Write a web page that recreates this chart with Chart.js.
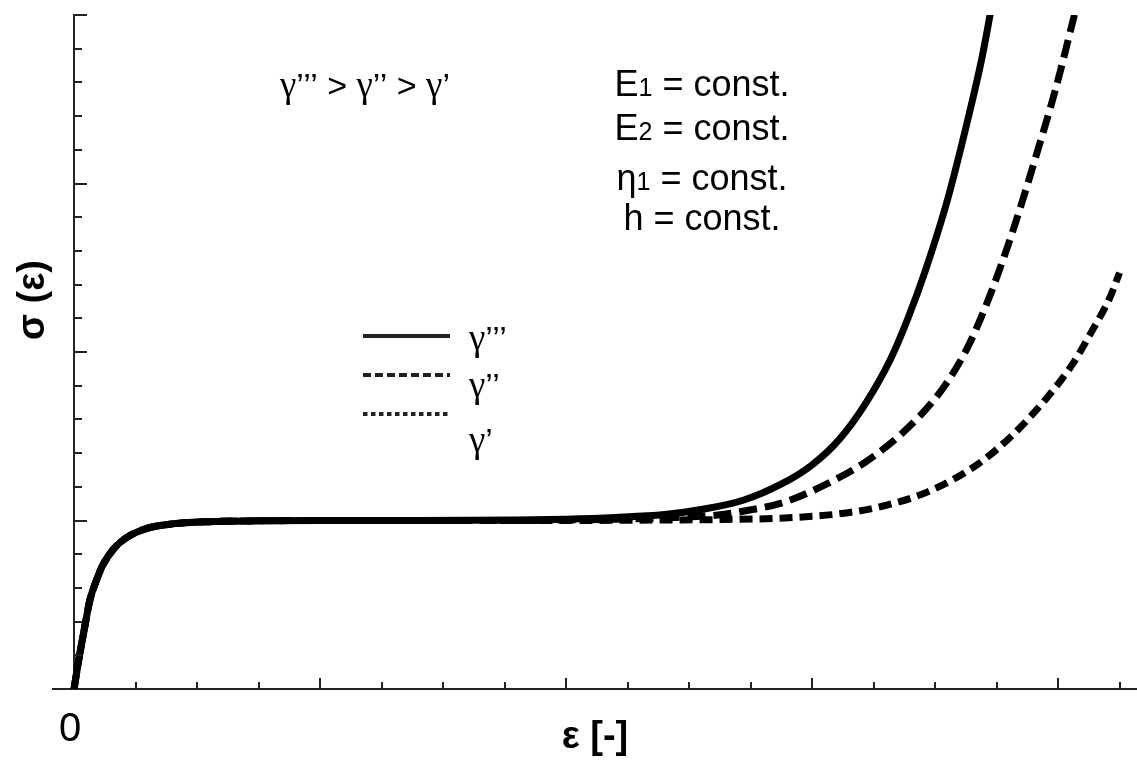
<!DOCTYPE html>
<html>
<head>
<meta charset="utf-8">
<script src="https://cdn.jsdelivr.net/npm/chart.js@4"></script>
<style>
  html, body { margin: 0; padding: 0; background: #fff; }
  #myChart { display: block; }
</style>
</head>
<body>
<canvas id="myChart" width="1137" height="760"></canvas>
<script>
// strain (x) and stress (y)
const strainFast = [0, 0.02, 0.04, 0.065, 0.09, 0.115, 0.16, 0.215, 0.3, 0.4, 0.55, 0.75, 1.0, 1.4, 1.8, 2.0, 2.2, 2.4, 2.55, 2.72, 2.88, 3.0, 3.11, 3.22, 3.32, 3.39, 3.46, 3.55, 3.64, 3.69, 3.73];
const stressFast = [0, 0.18, 0.34, 0.53, 0.64, 0.73, 0.83, 0.9, 0.955, 0.98, 0.993, 0.998, 1.0, 1.0, 1.003, 1.008, 1.018, 1.035, 1.065, 1.12, 1.22, 1.33, 1.48, 1.70, 1.96, 2.2, 2.48, 2.9, 3.42, 3.74, 4.05];

const strainMid = [0, 0.02, 0.04, 0.065, 0.09, 0.115, 0.16, 0.215, 0.3, 0.4, 0.55, 0.75, 1.0, 1.4, 1.8, 2.0, 2.2, 2.4, 2.6, 2.72, 2.89, 3.05, 3.22, 3.39, 3.53, 3.63, 3.70, 3.76, 3.83, 3.91, 3.99, 4.07];
const stressMid = [0, 0.18, 0.34, 0.53, 0.64, 0.73, 0.83, 0.9, 0.955, 0.98, 0.993, 0.998, 1.0, 1.0, 1.0, 1.003, 1.008, 1.016, 1.03, 1.055, 1.11, 1.21, 1.35, 1.55, 1.78, 2.02, 2.25, 2.48, 2.78, 3.16, 3.56, 4.02];

const strainSlow = [0, 0.02, 0.04, 0.065, 0.09, 0.115, 0.16, 0.215, 0.3, 0.4, 0.55, 0.75, 1.0, 1.4, 1.8, 2.0, 2.2, 2.4, 2.64, 2.89, 3.14, 3.30, 3.47, 3.67, 3.81, 3.95, 4.06, 4.14, 4.21, 4.25];
const stressSlow = [0, 0.18, 0.34, 0.53, 0.64, 0.73, 0.83, 0.9, 0.955, 0.98, 0.993, 0.998, 1.0, 1.0, 1.0, 1.0, 1.001, 1.003, 1.006, 1.015, 1.045, 1.09, 1.17, 1.33, 1.5, 1.72, 1.93, 2.13, 2.32, 2.47];

const seriesLabels = ['γ’’’', 'γ’’', 'γ’'];
const xTickValues = [0, 0.25, 0.5, 0.75, 1, 1.25, 1.5, 1.75, 2, 2.25, 2.5, 2.75, 3, 3.25, 3.5, 3.75, 4, 4.25];
const yTickValues = [0, 0.2, 0.4, 0.6, 0.8, 1, 1.2, 1.4, 1.6, 1.8, 2, 2.2, 2.4, 2.6, 2.8, 3, 3.2, 3.4, 3.6, 3.8, 4];
const orderNote = 'γ’’’ > γ’’ > γ’';
const constNotes = [['E', '1', ' = const.'], ['E', '2', ' = const.'], ['η', '1', ' = const.'], ['h', '', ' = const.']];

const FONT = "'Liberation Sans', Arial, sans-serif";
const SERIF = "'Liberation Serif', 'Times New Roman', serif";
const ink = '#000';
const axisInk = '#222';

const toPoints = (xs, ys) => xs.map((v, i) => ({x: v, y: ys[i]}));

const data = {
  datasets: [
    {
      label: seriesLabels[0],
      data: toPoints(strainFast, stressFast),
      borderColor: ink,
      borderWidth: 7,
      borderDash: [],
      legendDash: []
    },
    {
      label: seriesLabels[1],
      data: toPoints(strainMid, stressMid),
      borderColor: ink,
      borderWidth: 7,
      borderDash: [18, 8],
      legendDash: [8, 4]
    },
    {
      label: seriesLabels[2],
      data: toPoints(strainSlow, stressSlow),
      borderColor: ink,
      borderWidth: 7,
      borderDash: [13, 7],
      legendDash: [4.5, 3.5]
    }
  ]
};

// gamma in a serif face, the rest in sans
function drawMixed(ctx, text, x, y, size, align) {
  const runs = text.split(/(γ)/).filter(s => s.length);
  const fontOf = s => (s === 'γ' ? (size + 3) + 'px ' + SERIF : size + 'px ' + FONT);
  let total = 0;
  runs.forEach(s => { ctx.font = fontOf(s); total += ctx.measureText(s).width; });
  let cx = align === 'center' ? x - total / 2 : x;
  ctx.textAlign = 'left';
  runs.forEach(s => {
    ctx.font = fontOf(s);
    ctx.fillText(s, cx, y);
    cx += ctx.measureText(s).width;
  });
}

// inward ticks, rotated y title, legend and notes
const decorations = {
  id: 'decorations',
  afterDraw(chart) {
    const {ctx, scales: {x, y}} = chart;
    const x0 = x.getPixelForValue(0);
    const y0 = y.getPixelForValue(0);
    ctx.save();

    ctx.strokeStyle = axisInk;
    ctx.lineWidth = 2;
    ctx.beginPath();
    x.ticks.forEach(t => {
      if (t.value === 0) return;
      const px = Math.round(x.getPixelForValue(t.value));
      const len = Number.isInteger(t.value) ? 11 : 7;
      ctx.moveTo(px, y0);
      ctx.lineTo(px, y0 - len);
    });
    y.ticks.forEach(t => {
      if (t.value === 0) return;
      const py = Math.round(y.getPixelForValue(t.value));
      const len = Math.abs(t.value - Math.round(t.value)) < 1e-6 ? 13 : 8;
      ctx.moveTo(x0, py);
      ctx.lineTo(x0 + len, py);
    });
    ctx.stroke();

    // y title
    ctx.fillStyle = ink;
    ctx.save();
    ctx.translate(34, 300);
    ctx.rotate(-Math.PI / 2);
    ctx.font = 'bold 38px ' + FONT;
    ctx.textAlign = 'center';
    ctx.textBaseline = 'middle';
    ctx.fillText('σ (ε)', 0, 0);
    ctx.restore();

    // legend
    const lineY = [336, 375, 414];
    const textY = [350, 397, 452];
    chart.data.datasets.forEach((ds, i) => {
      ctx.beginPath();
      ctx.lineWidth = 4;
      ctx.lineCap = 'butt';
      ctx.setLineDash(ds.legendDash);
      ctx.moveTo(363, lineY[i]);
      ctx.lineTo(450, lineY[i]);
      ctx.stroke();
      ctx.setLineDash([]);
      ctx.textBaseline = 'alphabetic';
      drawMixed(ctx, ds.label, 469, textY[i], 34, 'left');
    });

    // notes
    ctx.textBaseline = 'alphabetic';
    drawMixed(ctx, orderNote, 365, 97, 34, 'center');

    const baselines = [96, 140, 190, 230];
    ctx.textAlign = 'left';
    constNotes.forEach((parts, i) => {
      const big = '36px ' + FONT, small = '25px ' + FONT;
      ctx.font = big;
      const w1 = ctx.measureText(parts[0]).width;
      const w3 = ctx.measureText(parts[2]).width;
      ctx.font = small;
      const w2 = ctx.measureText(parts[1]).width;
      let cx = 702 - (w1 + w2 + w3) / 2;
      ctx.font = big;
      ctx.fillText(parts[0], cx, baselines[i]);
      cx += w1;
      ctx.font = small;
      ctx.fillText(parts[1], cx, baselines[i]);
      cx += w2;
      ctx.font = big;
      ctx.fillText(parts[2], cx, baselines[i]);
    });

    ctx.restore();
  }
};

const config = {
  type: 'line',
  data: data,
  options: {
    responsive: false,
    animation: false,
    events: [],
    layout: {padding: {left: 53, right: 0, top: 15, bottom: 0}},
    elements: {
      point: {radius: 0},
      line: {cubicInterpolationMode: 'monotone', borderCapStyle: 'butt', borderJoinStyle: 'round', fill: false}
    },
    plugins: {
      legend: {display: false},
      tooltip: {enabled: false},
      title: {display: false}
    },
    scales: {
      x: {
        type: 'linear',
        position: 'bottom',
        min: -0.0854,
        max: 4.321,
        afterBuildTicks: axis => { axis.ticks = xTickValues.map(v => ({value: v})); },
        afterFit: axis => { axis.height = 71; },
        grid: {drawOnChartArea: false, drawTicks: false},
        border: {display: true, color: axisInk, width: 2},
        ticks: {
          autoSkip: false,
          maxRotation: 0,
          padding: 17,
          labelOffset: -4,
          color: ink,
          font: {family: FONT, size: 40},
          callback: v => (v === 0 ? '0' : '')
        },
        title: {
          display: true,
          text: 'ε [-]',
          color: ink,
          font: {family: FONT, size: 38, weight: 'bold'},
          padding: {top: 0, bottom: 0}
        }
      },
      y: {
        type: 'linear',
        position: {x: 0},
        min: 0,
        max: 4,
        afterBuildTicks: axis => { axis.ticks = yTickValues.map(v => ({value: v})); },
        grid: {drawOnChartArea: false, drawTicks: false},
        border: {display: true, color: axisInk, width: 2},
        ticks: {display: false}
      }
    }
  },
  plugins: [decorations]
};

const myChart = new Chart(document.getElementById('myChart'), config);
</script>
</body>
</html>
